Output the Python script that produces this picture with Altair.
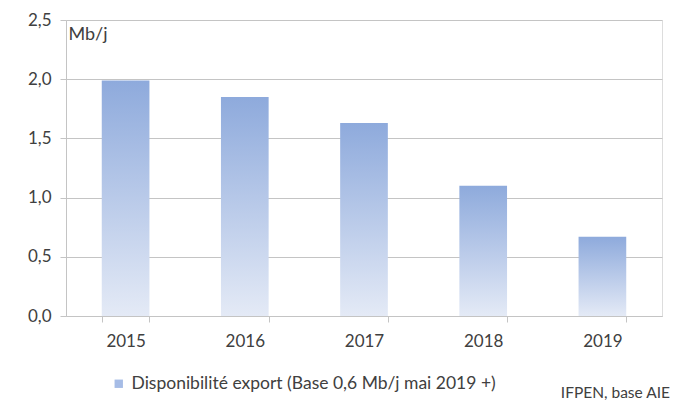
import altair as alt
import pandas as pd

years = ["2015", "2016", "2017", "2018", "2019"]
values = [1.99, 1.85, 1.63, 1.10, 0.67]
series = "Disponibilité export (Base 0,6 Mb/j mai 2019 +)"
source_note = "IFPEN, base AIE"

df = pd.DataFrame({"annee": years, "valeur": values, "serie": [series] * len(years)})

font = "Lato"
txt = "#404040"
grid = "#c4c4c4"

gradient = alt.LinearGradient(
    gradient="linear", x1=0, y1=0, x2=0, y2=1,
    stops=[alt.GradientStop(color="#8eaadc", offset=0),
           alt.GradientStop(color="#e4eaf6", offset=1)],
)

x = alt.X("annee:N", title=None, sort=years,
          scale=alt.Scale(paddingInner=0.6, paddingOuter=0.3),
          axis=alt.Axis(labelAngle=0, labelFontSize=17, labelColor=txt, labelFont=font,
                        tickBand="extent", tickSize=6, tickColor=grid, domainColor=grid,
                        labelPadding=11))
y = alt.Y("valeur:Q", title="Mb/j",
          scale=alt.Scale(domain=[0, 2.5], nice=False, zero=True),
          axis=alt.Axis(values=[0, 0.5, 1.0, 1.5, 2.0, 2.5], format=".1f",
                        labelFontSize=17, labelColor=txt, labelFont=font, labelPadding=9,
                        tickSize=6, tickColor=grid, domainColor=grid,
                        gridColor=grid, grid=True,
                        titleAngle=0, titleX=2, titleY=14, titleAlign="left",
                        titleBaseline="middle", titleFontSize=18, titleFontWeight="normal",
                        titleColor=txt, titleFont=font))

bars = alt.Chart(df).mark_bar(fill=gradient).encode(x=x, y=y)

legend_layer = alt.Chart(df).mark_square(opacity=0, size=1).encode(
    x=x,
    y=y,
    color=alt.Color("serie:N", title=None,
                    scale=alt.Scale(range=["#a6bce6"]),
                    legend=alt.Legend(orient="none", legendX=44, legendY=355,
                                      symbolType="square", symbolSize=70,
                                      symbolOpacity=1, symbolStrokeWidth=0,
                                      labelFontSize=17.5, labelColor=txt, labelFont=font,
                                      labelLimit=700)),
)

chart = alt.layer(bars, legend_layer).properties(
    width=596, height=296,
    padding={"left": 58, "top": 12, "right": 10, "bottom": 92},
    autosize=alt.AutoSizeParams(type="none"),
    title=alt.TitleParams(source_note, orient="bottom", anchor="end", fontSize=15.5,
                          fontWeight="normal", color=txt, font=font, dx=8, offset=-7),
).configure_view(stroke=None).configure(locale={"number": {"decimal": ",", "thousands": " ",
                                                           "grouping": [3], "currency": ["", " €"]}})

chart.save("out.html", embed_options={"renderer": "svg", "actions": False})
